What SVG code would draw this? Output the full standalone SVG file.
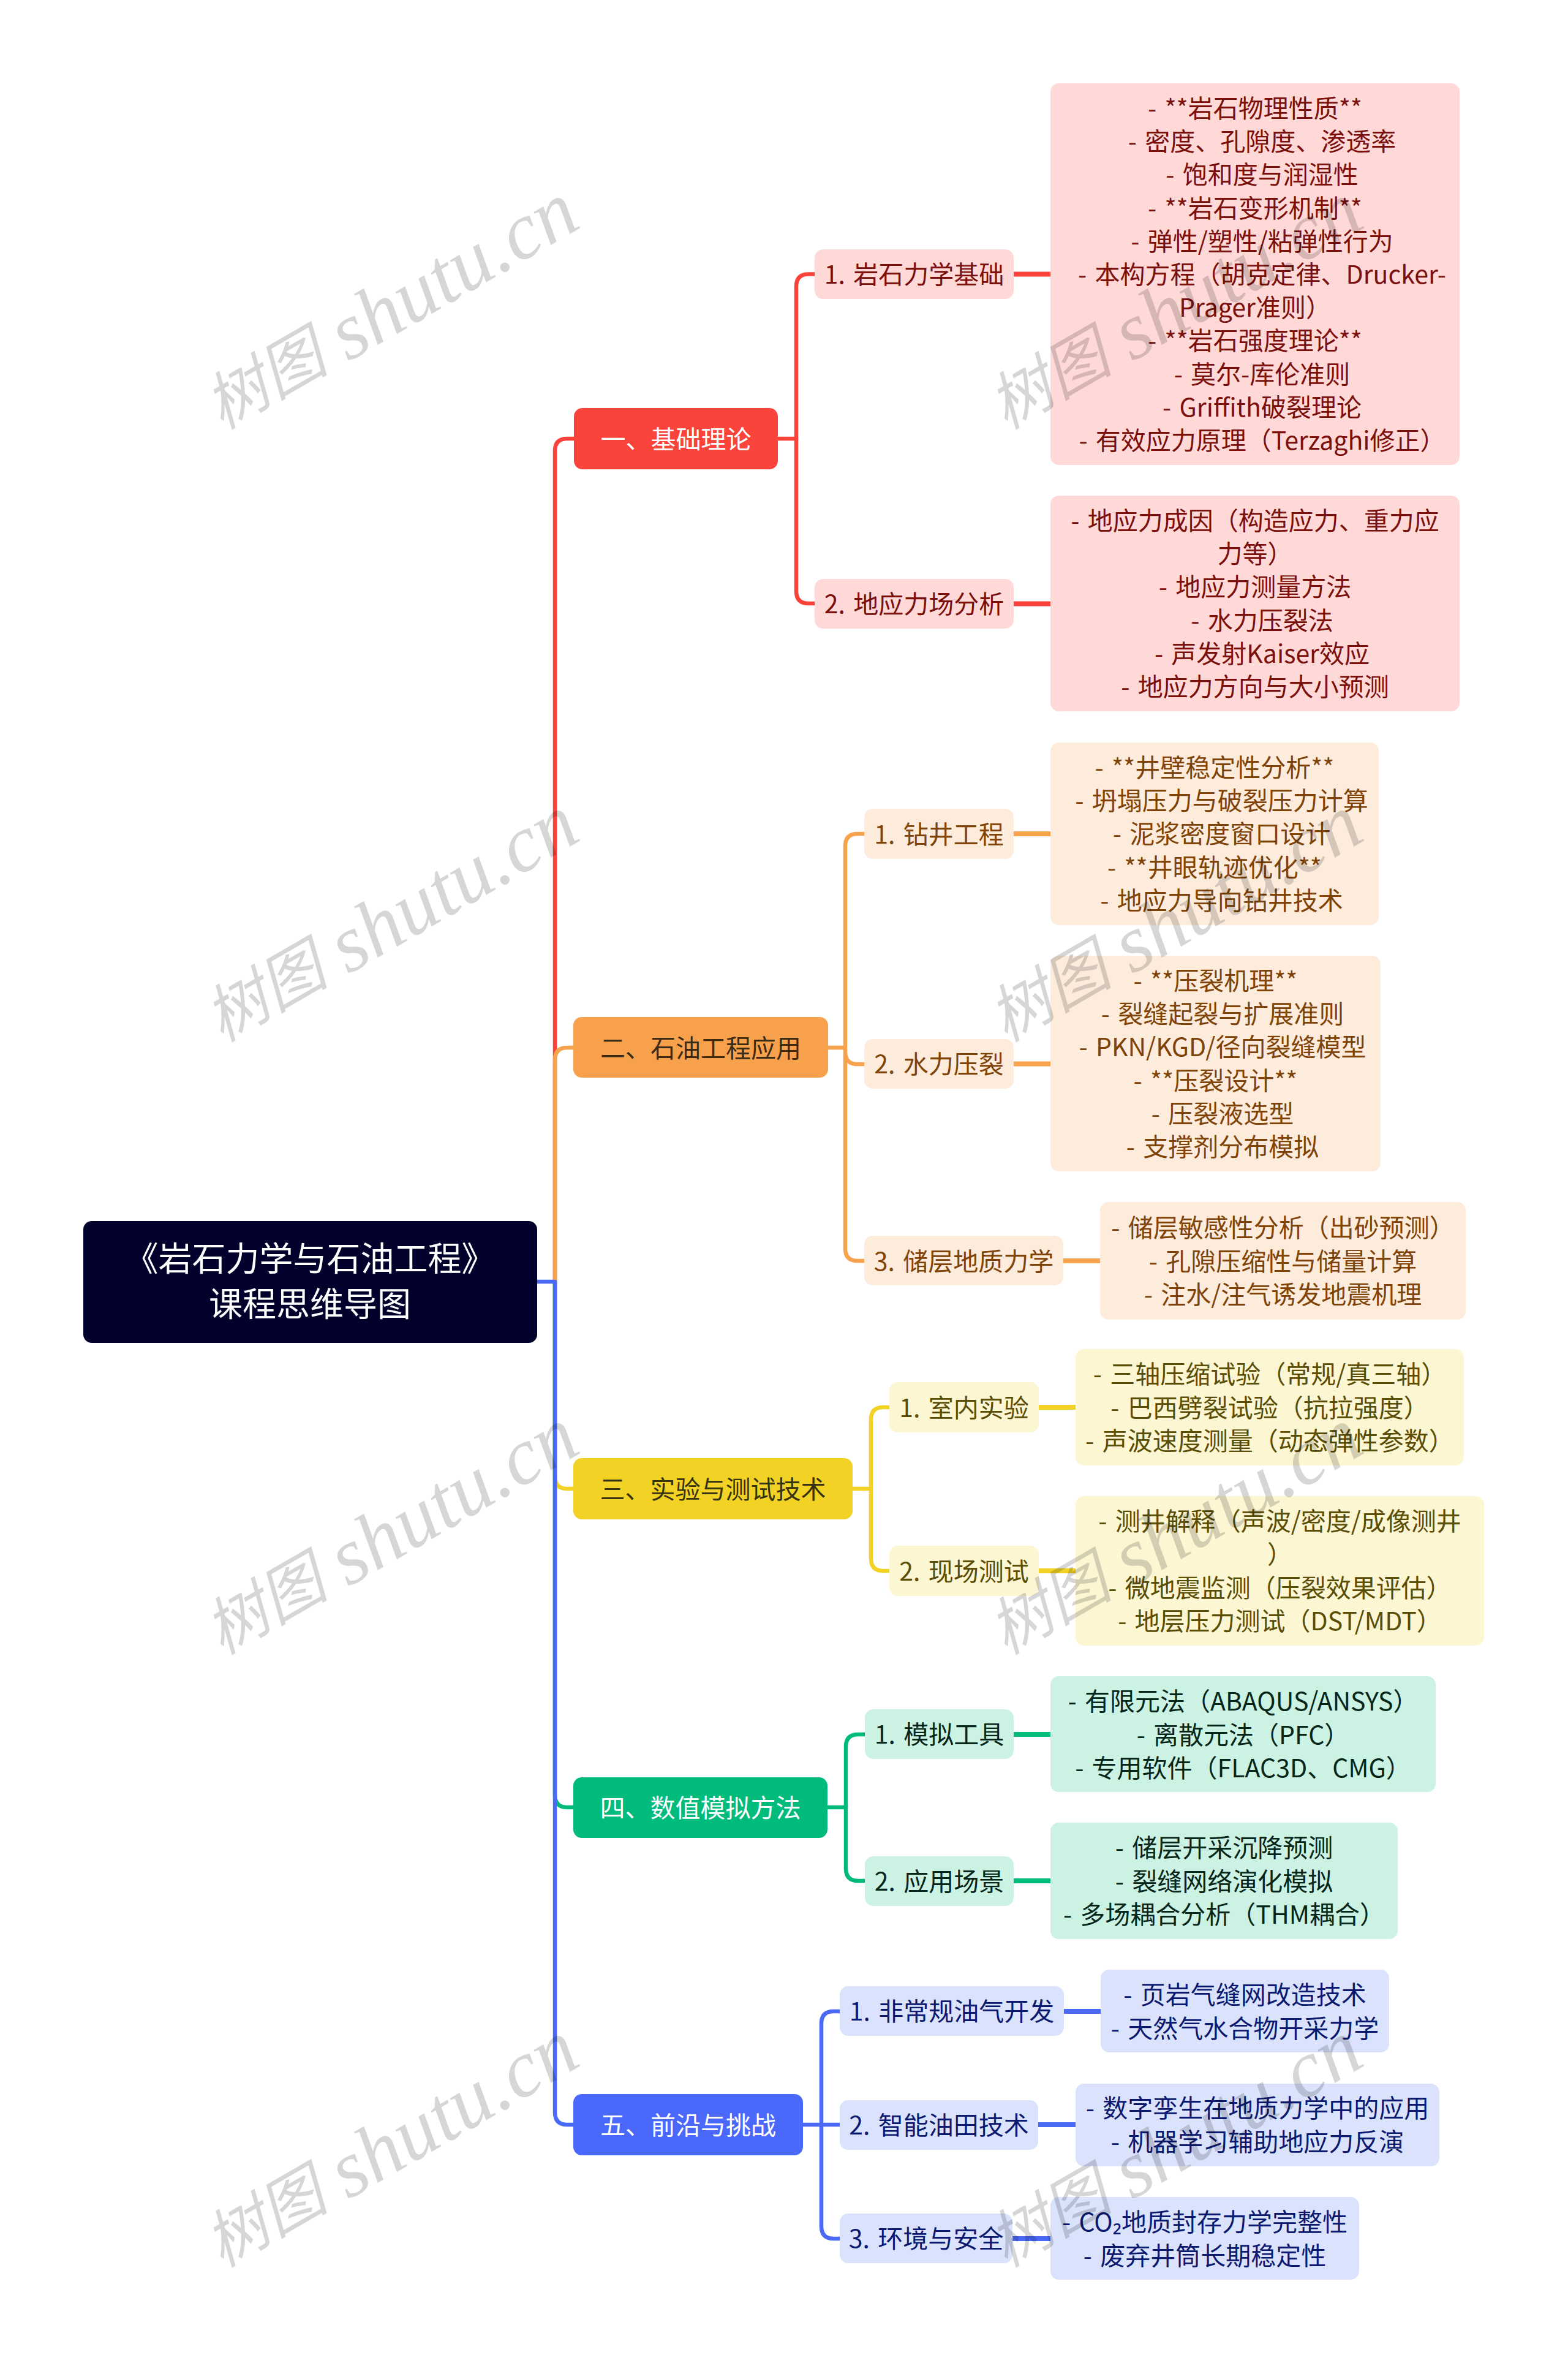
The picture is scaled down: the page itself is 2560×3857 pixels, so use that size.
<svg xmlns="http://www.w3.org/2000/svg" width="2560" height="3857" viewBox="0 0 2560 3857">
<style>
text{font-family:"Noto Sans CJK SC","Noto Sans",sans-serif;font-size:41px;word-spacing:4px;text-anchor:middle}
.root{font-size:55px;fill:#fff}
.w{fill:#fff}
text.wm{font-family:"Liberation Serif","Noto Sans CJK SC",serif;font-style:italic;font-size:102px;word-spacing:0;text-anchor:start;fill:#000;fill-opacity:.16}
.wl{font-size:132px}
path{fill:none;stroke-width:6.5;stroke-linejoin:round}
.lk{stroke-width:8}
.cr{stroke:#f9423a}.co{stroke:#f7a24d}.cy{stroke:#f2d325}.cg{stroke:#00b97c}.cb{stroke:#4a69f5}
.nr{fill:#fa433b}.no{fill:#f7a14d}.ny{fill:#f2d325}.ng{fill:#00bb7c}.nb{fill:#4a69fb}
.br{fill:#ffd9d8}.bo{fill:#fdecdc}.by{fill:#fcf6d3}.bg{fill:#ccf2e3}.bb{fill:#dbe2fb}
.tr{fill:#7a0f0c}.to{fill:#7f4307}.ty{fill:#5a4d05}.tg{fill:#06261a}.tb{fill:#0b1a70}
.tyn{fill:#38330f}.ton{fill:#3d2a13}
</style>
<rect width="2560" height="3857" fill="#fff"/>
<g id="connectors">
<path class="cr" d="M906 2092V736Q906 716 926 716H937M1270 716H1300M1330 447.5H1320Q1300 447.5 1300 467.5V965Q1300 985 1320 985H1330"/>
<path class="cr lk" d="M1655 447.5H1715M1655 985.5H1715"/>
<path class="co" d="M906 2092V1730Q906 1710 926 1710H936M1352 1710H1380M1411 1361H1400Q1380 1361 1380 1381V2038Q1380 2058 1400 2058H1411M1380 1717Q1380 1737 1400 1737H1411"/>
<path class="co lk" d="M1655 1361H1715M1655 1736.5H1715M1736 2058H1796"/>
<path class="cy" d="M906 2092V2410Q906 2430 926 2430H936M1392 2430H1422M1452 2297H1442Q1422 2297 1422 2317V2544Q1422 2564 1442 2564H1452"/>
<path class="cy lk" d="M1696 2297H1756M1696 2564H1756"/>
<path class="cg" d="M906 2092V2930Q906 2950 926 2950H936M1351 2950H1381M1412 2831H1401Q1381 2831 1381 2851V3050Q1381 3070 1401 3070H1412"/>
<path class="cg lk" d="M1655 2831H1715M1655 3070H1715"/>
<path class="cb" d="M877 2092H906V3448Q906 3468 926 3468H936M1311 3468H1371M1371 3283H1361Q1341 3283 1341 3303V3634Q1341 3654 1361 3654H1371"/>
<path class="cb lk" d="M1737 3283H1797M1695 3468H1756M1653 3654H1715"/>
</g>
<g id="root"><rect x="136" y="1993" width="741" height="199" rx="14" fill="#01012b"/><text class="root" x="506" y="2074">《岩石力学与石油工程》</text><text class="root" x="506" y="2148">课程思维导图</text></g>

<g id="n1"><rect class="nr" x="937" y="666" width="333" height="100" rx="14"/><text class="w" x="1103.5" y="731.5">一、基础理论</text></g>
<g id="n1-1"><rect class="br" x="1330" y="407" width="325" height="81" rx="14"/><text class="tr" x="1492.5" y="463">1. 岩石力学基础</text></g>
<g id="n1-1-d"><rect class="br" x="1715" y="136" width="668" height="623" rx="14"/><text class="tr"><tspan x="2049" y="192">- **岩石物理性质**</tspan><tspan x="2060.5" dy="54.2">- 密度、孔隙度、渗透率</tspan><tspan x="2060.5" dy="54.2">- 饱和度与润湿性</tspan><tspan x="2049" dy="54.2">- **岩石变形机制**</tspan><tspan x="2060.5" dy="54.2">- 弹性/塑性/粘弹性行为</tspan><tspan x="2060.5" dy="54.2">- 本构方程（胡克定律、Drucker-</tspan><tspan x="2049" dy="54.2">Prager准则）</tspan><tspan x="2049" dy="54.2">- **岩石强度理论**</tspan><tspan x="2060.5" dy="54.2">- 莫尔-库伦准则</tspan><tspan x="2060.5" dy="54.2">- Griffith破裂理论</tspan><tspan x="2060.5" dy="54.2">- 有效应力原理（Terzaghi修正）</tspan></text></g>
<g id="n1-2"><rect class="br" x="1330" y="945" width="325" height="81" rx="14"/><text class="tr" x="1492.5" y="1001">2. 地应力场分析</text></g>
<g id="n1-2-d"><rect class="br" x="1715" y="809" width="668" height="352" rx="14"/><text class="tr"><tspan x="2049" y="865">- 地应力成因（构造应力、重力应</tspan><tspan x="2049" dy="54.2">力等）</tspan><tspan x="2049" dy="54.2">- 地应力测量方法</tspan><tspan x="2060.5" dy="54.2">- 水力压裂法</tspan><tspan x="2060.5" dy="54.2">- 声发射Kaiser效应</tspan><tspan x="2049" dy="54.2">- 地应力方向与大小预测</tspan></text></g>

<g id="n2"><rect class="no" x="936" y="1660" width="416" height="99" rx="14"/><text class="ton" x="1144" y="1725.5">二、石油工程应用</text></g>
<g id="n2-1"><rect class="bo" x="1411" y="1320" width="244" height="82" rx="14"/><text class="to" x="1533" y="1376.5">1. 钻井工程</text></g>
<g id="n2-1-d"><rect class="bo" x="1715" y="1212" width="536" height="298" rx="14"/><text class="to"><tspan x="1983" y="1268">- **井壁稳定性分析**</tspan><tspan x="1994.5" dy="54.2">- 坍塌压力与破裂压力计算</tspan><tspan x="1994.5" dy="54.2">- 泥浆密度窗口设计</tspan><tspan x="1983" dy="54.2">- **井眼轨迹优化**</tspan><tspan x="1994.5" dy="54.2">- 地应力导向钻井技术</tspan></text></g>
<g id="n2-2"><rect class="bo" x="1411" y="1696" width="244" height="81" rx="14"/><text class="to" x="1533" y="1752">2. 水力压裂</text></g>
<g id="n2-2-d"><rect class="bo" x="1715" y="1560" width="539" height="352" rx="14"/><text class="to"><tspan x="1984.5" y="1616">- **压裂机理**</tspan><tspan x="1996" dy="54.2">- 裂缝起裂与扩展准则</tspan><tspan x="1996" dy="54.2">- PKN/KGD/径向裂缝模型</tspan><tspan x="1984.5" dy="54.2">- **压裂设计**</tspan><tspan x="1996" dy="54.2">- 压裂液选型</tspan><tspan x="1996" dy="54.2">- 支撑剂分布模拟</tspan></text></g>
<g id="n2-3"><rect class="bo" x="1411" y="2017" width="325" height="81" rx="14"/><text class="to" x="1573.5" y="2073.5">3. 储层地质力学</text></g>
<g id="n2-3-d"><rect class="bo" x="1796" y="1962" width="597" height="192" rx="14"/><text class="to"><tspan x="2094.5" y="2019.3">- 储层敏感性分析（出砂预测）</tspan><tspan x="2094.5" dy="54.2">- 孔隙压缩性与储量计算</tspan><tspan x="2094.5" dy="54.2">- 注水/注气诱发地震机理</tspan></text></g>

<g id="n3"><rect class="ny" x="936" y="2380" width="456" height="100" rx="14"/><text class="tyn" x="1164" y="2445.5">三、实验与测试技术</text></g>
<g id="n3-1"><rect class="by" x="1452" y="2256" width="244" height="82" rx="14"/><text class="ty" x="1574" y="2312.5">1. 室内实验</text></g>
<g id="n3-1-d"><rect class="by" x="1756" y="2202" width="634" height="190" rx="14"/><text class="ty"><tspan x="2073" y="2258.3">- 三轴压缩试验（常规/真三轴）</tspan><tspan x="2073" dy="54.2">- 巴西劈裂试验（抗拉强度）</tspan><tspan x="2073" dy="54.2">- 声波速度测量（动态弹性参数）</tspan></text></g>
<g id="n3-2"><rect class="by" x="1452" y="2523" width="244" height="82" rx="14"/><text class="ty" x="1574" y="2579.5">2. 现场测试</text></g>
<g id="n3-2-d"><rect class="by" x="1756" y="2442" width="667" height="244" rx="14"/><text class="ty"><tspan x="2089.5" y="2498.2">- 测井解释（声波/密度/成像测井</tspan><tspan x="2089.5" dy="54.2">）</tspan><tspan x="2089.5" dy="54.2">- 微地震监测（压裂效果评估）</tspan><tspan x="2089.5" dy="54.2">- 地层压力测试（DST/MDT）</tspan></text></g>

<g id="n4"><rect class="ng" x="936" y="2901" width="415" height="99" rx="14"/><text class="w" x="1143.5" y="2965.5">四、数值模拟方法</text></g>
<g id="n4-1"><rect class="bg" x="1412" y="2790" width="243" height="81" rx="14"/><text class="tg" x="1533.5" y="2846">1. 模拟工具</text></g>
<g id="n4-1-d"><rect class="bg" x="1715" y="2736" width="629" height="189" rx="14"/><text class="tg"><tspan x="2029.5" y="2792.3">- 有限元法（ABAQUS/ANSYS）</tspan><tspan x="2029.5" dy="54.2">- 离散元法（PFC）</tspan><tspan x="2029.5" dy="54.2">- 专用软件（FLAC3D、CMG）</tspan></text></g>
<g id="n4-2"><rect class="bg" x="1412" y="3030" width="243" height="81" rx="14"/><text class="tg" x="1533.5" y="3086">2. 应用场景</text></g>
<g id="n4-2-d"><rect class="bg" x="1715" y="2975" width="567" height="190" rx="14"/><text class="tg"><tspan x="1998.5" y="3031.3">- 储层开采沉降预测</tspan><tspan x="1998.5" dy="54.2">- 裂缝网络演化模拟</tspan><tspan x="1998.5" dy="54.2">- 多场耦合分析（THM耦合）</tspan></text></g>

<g id="n5"><rect class="nb" x="936" y="3418" width="375" height="100" rx="14"/><text class="w" x="1123.5" y="3483.5">五、前沿与挑战</text></g>
<g id="n5-1"><rect class="bb" x="1371" y="3242" width="366" height="81" rx="14"/><text class="tb" x="1554" y="3298">1. 非常规油气开发</text></g>
<g id="n5-1-d"><rect class="bb" x="1797" y="3215" width="471" height="135" rx="14"/><text class="tb"><tspan x="2032.5" y="3271.4">- 页岩气缝网改造技术</tspan><tspan x="2032.5" dy="54.2">- 天然气水合物开采力学</tspan></text></g>
<g id="n5-2"><rect class="bb" x="1371" y="3428" width="324" height="81" rx="14"/><text class="tb" x="1533" y="3484">2. 智能油田技术</text></g>
<g id="n5-2-d"><rect class="bb" x="1756" y="3401" width="594" height="135" rx="14"/><text class="tb"><tspan x="2053" y="3456.4">- 数字孪生在地质力学中的应用</tspan><tspan x="2053" dy="54.2">- 机器学习辅助地应力反演</tspan></text></g>
<g id="n5-3"><rect class="bb" x="1371" y="3613" width="282" height="81" rx="14"/><text class="tb" x="1512" y="3669">3. 环境与安全</text></g>
<g id="n5-3-d"><rect class="bb" x="1715" y="3586" width="504" height="135" rx="14"/><text class="tb"><tspan x="1967" y="3642.4">- CO₂地质封存力学完整性</tspan><tspan x="1967" dy="54.2">- 废弃井筒长期稳定性</tspan></text></g>

<g id="watermarks">
<text class="wm" transform="translate(362 702) rotate(-30)">树图 <tspan class="wl" x="234" dy="7">shutu.cn</tspan></text>
<text class="wm" transform="translate(1642 702) rotate(-30)">树图 <tspan class="wl" x="234" dy="7">shutu.cn</tspan></text>
<text class="wm" transform="translate(362 1702) rotate(-30)">树图 <tspan class="wl" x="234" dy="7">shutu.cn</tspan></text>
<text class="wm" transform="translate(1642 1702) rotate(-30)">树图 <tspan class="wl" x="234" dy="7">shutu.cn</tspan></text>
<text class="wm" transform="translate(362 2702) rotate(-30)">树图 <tspan class="wl" x="234" dy="7">shutu.cn</tspan></text>
<text class="wm" transform="translate(1642 2702) rotate(-30)">树图 <tspan class="wl" x="234" dy="7">shutu.cn</tspan></text>
<text class="wm" transform="translate(362 3702) rotate(-30)">树图 <tspan class="wl" x="234" dy="7">shutu.cn</tspan></text>
<text class="wm" transform="translate(1642 3702) rotate(-30)">树图 <tspan class="wl" x="234" dy="7">shutu.cn</tspan></text>
</g>
</svg>
